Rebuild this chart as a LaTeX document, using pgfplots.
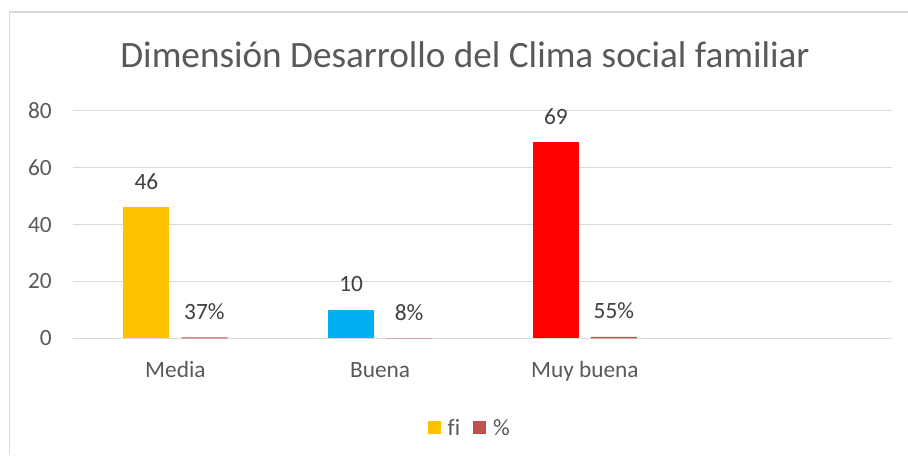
\documentclass[border=0pt]{standalone}
\usepackage{fontspec}
\setmainfont{Carlito}[Ligatures=NoCommon]
\usepackage{pgfplots}
\pgfplotsset{compat=1.18}
\definecolor{txt}{HTML}{595959}
\definecolor{lbl}{HTML}{404040}
\definecolor{gridc}{HTML}{D9D9D9}
\definecolor{cMedia}{HTML}{FFC000}
\definecolor{cBuena}{HTML}{00B0F0}
\definecolor{cMuy}{HTML}{FF0000}
\definecolor{cPct}{HTML}{C0504D}
\begin{document}
\begin{tikzpicture}
\useasboundingbox (0pt,0pt) rectangle (681pt,341.25pt);
\fill[white] (0pt,0pt) rectangle (681pt,341.25pt);
\draw[gridc, line width=1.4pt] (7.1pt,0pt) -- (7.1pt,332.25pt) -- (681pt,332.25pt);
\node[anchor=base, text=txt, font=\fontsize{27.9}{32}\selectfont] at (348.75pt,291pt) {Dimensión Desarrollo del Clima social familiar};
\begin{axis}[
  at={(54.75pt,87.5pt)}, anchor=south west,
  scale only axis, width=614.25pt, height=170.7pt,
  xmin=-0.5, xmax=3.5, ymin=0, ymax=80,
  xtick={0,1,2}, xticklabels={Media,Buena,Muy buena},
  ytick={0,20,40,60,80},
  xmajorgrids=false, ymajorgrids=true,
  major grid style={color=gridc, line width=0.9pt},
  axis line style={draw=none},
  major tick length=0pt,
  /pgf/number format/assume math mode=true,
  tick label style={text=txt, font=\fontsize{17.5}{20}\selectfont},
  yticklabel style={anchor=east, inner sep=0pt, xshift=-15.75pt},
  xticklabel style={anchor=base, inner sep=0pt, yshift=-29.25pt},
  ybar, bar width=34.5pt,
  nodes near coords,
  every node near coord/.append style={anchor=base, inner sep=0pt, yshift=13.5pt, text=lbl, font=\fontsize{17.5}{20}\selectfont},
  legend style={at={(axis description cs:0.485,-0.395)}, anchor=center, draw=none, fill=none,
     legend columns=2, font=\fontsize{17.5}{20}\selectfont, text=txt,
     /tikz/every even column/.append style={column sep=8pt},
     /tikz/every odd column/.append style={column sep=3pt}},
  legend cell align=left,
  legend image code/.code={\fill[#1, draw=none] (0pt,-4pt) rectangle (9.75pt,5.75pt);},
]
\addplot[fill=cMedia, draw=none, bar shift=-21.75pt] coordinates {(0,46)};
\addlegendentry{fi}
\addplot[fill=cPct, draw=none, bar shift=21.75pt, point meta=explicit symbolic]
  coordinates {(0,0.37) [37\%] (1,0.08) [8\%] (2,0.55) [55\%]};
\addlegendentry{\%}
\addplot[fill=cBuena, draw=none, bar shift=-21.75pt, forget plot] coordinates {(1,10)};
\addplot[fill=cMuy, draw=none, bar shift=-21.75pt, forget plot] coordinates {(2,69)};
\end{axis}
\end{tikzpicture}
\end{document}
